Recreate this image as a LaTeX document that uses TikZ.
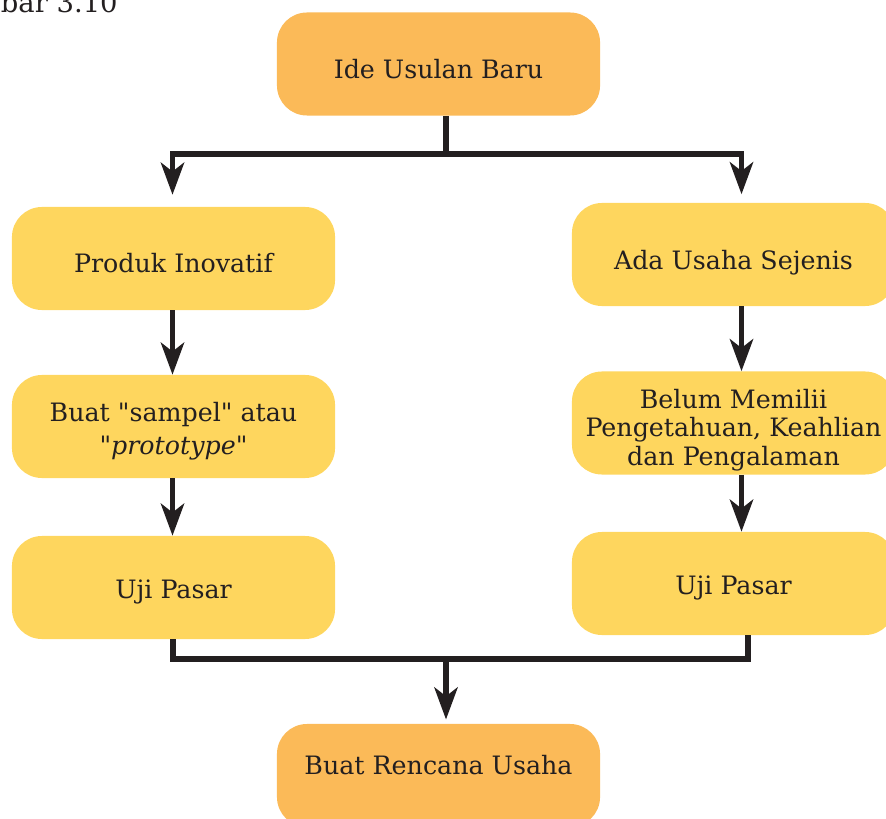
\documentclass[tikz,border=0pt]{standalone}
\usepackage{fontspec}
\setmainfont{DejaVu Serif}[Ligatures=TeXOff]
\usetikzlibrary{arrows.meta,calc}
\definecolor{boxorange}{RGB}{251,186,88}
\definecolor{boxyellow}{RGB}{254,214,94}
\definecolor{ink}{RGB}{35,31,32}
\begin{document}
\begin{tikzpicture}[x=0.025cm,y=-0.025cm,
  box/.style={rounded corners=0.75cm, minimum width=8.075cm, minimum height=2.575cm, inner sep=0pt, draw=none},
  txt/.style={font=\fontsize{18pt}{20.3pt}\selectfont, text=ink, align=center, yshift=-3.5pt},
  conn/.style={draw=ink, line width=3.9pt},
  arr/.style={conn, -{Stealth[length=0.8cm, width=0.58cm, inset=0.22cm]}}]
\useasboundingbox (0,0) rectangle (886,819);
% caption fragment
\node[anchor=base east, inner sep=0pt, font=\fontsize{19.5pt}{22pt}\selectfont, text=ink] (cap) at (118,13) {Gambar 3.10};
% boxes
\node[box, fill=boxorange, label={[txt]center:Ide Usulan Baru}] (ide) at (438.5,64) {};
\node[box, fill=boxyellow, label={[txt]center:Produk Inovatif}] (produk) at (173.5,258.5) {};
\node[box, fill=boxyellow, label={[txt, yshift=-2pt]center:Ada Usaha Sejenis}] (ada) at (733.5,254.5) {};
\node[box, fill=boxyellow, label={[txt, font=\fontsize{18pt}{23.5pt}\selectfont]center:Buat "sampel" atau\\"\textit{prototype}"}] (sampel) at (173.5,426.5) {};
\node[box, fill=boxyellow, label={[txt, yshift=-1.5pt]center:Belum Memilii\\Pengetahuan, Keahlian\\dan Pengalaman}] (belum) at (733.5,423) {};
\node[box, fill=boxyellow, label={[txt]center:Uji Pasar}] (ujiL) at (173.5,587.5) {};
\node[box, fill=boxyellow, label={[txt]center:Uji Pasar}] (ujiR) at (733.5,583.5) {};
\node[box, fill=boxorange, label={[txt, yshift=11pt]center:Buat Rencana Usaha}] (rencana) at (438.5,775.5) {};
% junctions
\coordinate (jtop) at (446,154);
\coordinate (jbot) at (446,659);
\coordinate (tl) at (172.5,154);
\coordinate (tr) at (741.5,154);
\coordinate (bl) at (173,659);
\coordinate (br) at (748,659);
% top split
\draw[conn] (ide.south -| jtop) -- (jtop);
\draw[conn, line cap=rect] (tl) -- (tr);
\draw[arr, shorten >=8.5pt] (tl) -- (produk.north -| tl);
\draw[arr, shorten >=6pt] (tr) -- (ada.north -| tr);
% left column
\draw[arr] (produk.south -| tl) -- (sampel.north -| tl);
\draw[arr] (sampel.south -| tl) -- (ujiL.north -| tl);
% right column
\draw[arr] (ada.south -| tr) -- (belum.north -| tr);
\draw[arr] (belum.south -| tr) -- (ujiR.north -| tr);
% merge
\draw[conn, line join=miter] (ujiL.south -| bl) -- (bl) -- (br) -- (ujiR.south -| br);
\draw[arr, shorten >=3pt] (jbot) -- (rencana.north -| jbot);
\end{tikzpicture}
\end{document}
